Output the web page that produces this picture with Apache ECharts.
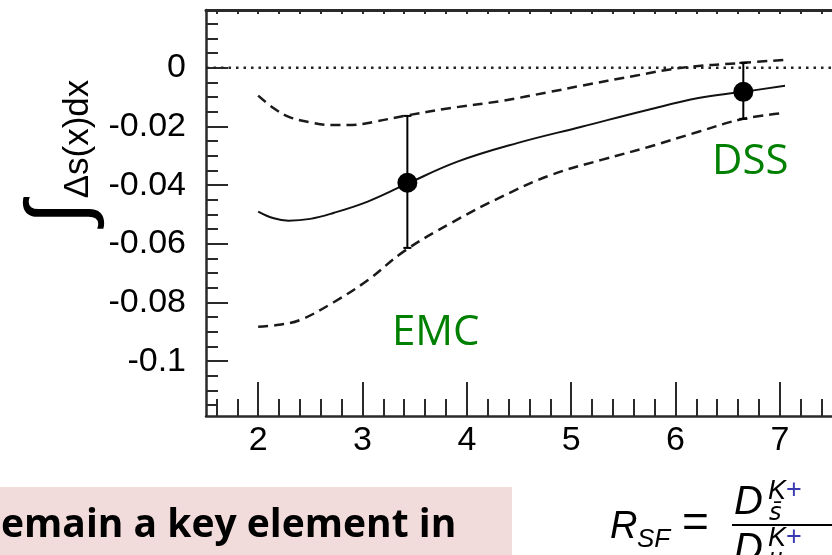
<!DOCTYPE html>
<html>
<head>
<meta charset="utf-8">
<script src="https://cdn.jsdelivr.net/npm/echarts@6/dist/echarts.min.js"></script>
<style>
html,body{margin:0;padding:0;background:#fff}
#main{width:832px;height:555px}
</style>
</head>
<body>
<div id="main"></div>
<script>
// central curve (solid)
let solidX = [2.0, 2.15, 2.29, 2.5, 2.72, 3.05, 3.4, 3.91, 4.49, 5.1, 5.74, 6.22, 6.65, 7.05];
let solidY = [-0.049, -0.0513, -0.0521, -0.0515, -0.0495, -0.0456, -0.0400, -0.0320, -0.0256, -0.0201, -0.0143, -0.0103, -0.0082, -0.0061];
// upper band (dashed)
let upperX = [2.0, 2.15, 2.3, 2.5, 2.7, 2.9, 3.1, 3.4, 3.85, 4.33, 4.8, 5.1, 5.6, 6.06, 6.65, 7.05];
let upperY = [-0.0095, -0.0138, -0.0168, -0.0186, -0.0195, -0.0195, -0.0185, -0.0164, -0.0137, -0.0113, -0.0082, -0.0061, -0.0028, 0.0, 0.0017, 0.0027];
// lower band (dashed)
let lowerX = [2.0, 2.2, 2.4, 2.72, 3.05, 3.4, 3.85, 4.33, 4.81, 5.29, 5.74, 6.22, 6.65, 7.05];
let lowerY = [-0.0883, -0.0876, -0.086, -0.080, -0.0724, -0.0625, -0.0529, -0.044, -0.0365, -0.0314, -0.027, -0.0218, -0.0174, -0.0154];
// points with errors: EMC, DSS
let pointNames = ['EMC', 'DSS'];
let pointX = [3.43, 6.65];
let pointY = [-0.0392, -0.0082];
let pointLo = [-0.0614, -0.0174];
let pointHi = [-0.0164, 0.0017];

let xMin = 1.5, xMax = 7.5;
let yMin = -0.1187, yMax = 0.0197;
let xMajor = [2, 3, 4, 5, 6, 7];
let yMajor = [0, -0.02, -0.04, -0.06, -0.08, -0.1];
let xMinor = [];
for (let i = 8; i <= 37; i++) xMinor.push(+(i * 0.2).toFixed(1));
let yMinor = [];
for (let i = 3; i >= -23; i--) yMinor.push(+(i * 0.005).toFixed(3));

let pair = (xs, ys) => xs.map((x, i) => [x, ys[i]]);

let axisColor = '#2a2a2a';
let tickFont = {fontSize: 34, color: '#000', fontFamily: 'Liberation Sans'};

function renderErr(params, api) {
    let x = api.value(0);
    let pLo = api.coord([x, api.value(1)]);
    let pHi = api.coord([x, api.value(2)]);
    let cap = 4;
    let st = {stroke: '#000', lineWidth: 2};
    return {
        type: 'group',
        children: [
            {type: 'line', shape: {x1: pLo[0], y1: pLo[1], x2: pHi[0], y2: pHi[1]}, style: st},
            {type: 'line', shape: {x1: pLo[0] - cap, y1: pLo[1], x2: pLo[0] + cap, y2: pLo[1]}, style: st},
            {type: 'line', shape: {x1: pHi[0] - cap, y1: pHi[1], x2: pHi[0] + cap, y2: pHi[1]}, style: st}
        ]
    };
}

var myChart = echarts.init(document.getElementById('main'));

let supRich = {
    k: {fontSize: 27, fontStyle: 'italic', fontFamily: 'Liberation Sans', fill: '#000'},
    p: {fontSize: 27, fontFamily: 'Liberation Sans', fill: '#3a3ab0'}
};

var option = {
    animation: false,
    backgroundColor: '#fff',
    grid: {left: 206, right: 0, top: 10, bottom: 139},
    xAxis: [
        {
            type: 'value', position: 'bottom', min: xMin, max: xMax,
            axisLine: {show: true, onZero: false, lineStyle: {color: axisColor, width: 2.5}},
            axisTick: {show: true, inside: true, length: 34, customValues: xMajor, lineStyle: {color: axisColor, width: 2}},
            axisLabel: Object.assign({customValues: xMajor, margin: 8}, tickFont),
            splitLine: {show: false}
        },
        {
            type: 'value', position: 'bottom', min: xMin, max: xMax,
            axisLine: {show: false, onZero: false},
            axisTick: {show: true, inside: true, length: 17, customValues: xMinor, lineStyle: {color: axisColor, width: 2}},
            axisLabel: {show: false},
            splitLine: {show: false}
        },
        {
            type: 'value', position: 'top', min: xMin, max: xMax,
            axisLine: {show: true, onZero: false, lineStyle: {color: axisColor, width: 3}},
            axisTick: {show: true, inside: true, length: 4, customValues: xMinor, lineStyle: {color: axisColor, width: 2}},
            axisLabel: {show: false},
            splitLine: {show: false}
        }
    ],
    yAxis: [
        {
            type: 'value', position: 'left', min: yMin, max: yMax,
            axisLine: {show: true, onZero: false, lineStyle: {color: axisColor, width: 2.5}},
            axisTick: {show: true, inside: true, length: 22, customValues: yMajor, lineStyle: {color: axisColor, width: 2}},
            axisLabel: Object.assign({customValues: yMajor, margin: 20, formatter: v => String(+(+v).toFixed(3))}, tickFont),
            splitLine: {show: false}
        },
        {
            type: 'value', position: 'left', min: yMin, max: yMax,
            axisLine: {show: false, onZero: false},
            axisTick: {show: true, inside: true, length: 12, customValues: yMinor, lineStyle: {color: axisColor, width: 2}},
            axisLabel: {show: false},
            splitLine: {show: false}
        }
    ],
    series: [
        {
            type: 'line', data: [[xMin, 0], [xMax, 0]], symbol: 'none', silent: true,
            lineStyle: {color: '#222', width: 2.5, type: [2.5, 5]}
        },
        {
            type: 'line', data: pair(upperX, upperY), smooth: 0.4, symbol: 'none',
            lineStyle: {color: '#1a1a1a', width: 2.5, type: [10, 6]}
        },
        {
            type: 'line', data: pair(lowerX, lowerY), smooth: 0.4, symbol: 'none',
            lineStyle: {color: '#1a1a1a', width: 2.5, type: [10, 6]}
        },
        {
            type: 'line', data: pair(solidX, solidY), smooth: 0.4, symbol: 'none',
            lineStyle: {color: '#111', width: 2}
        },
        {
            type: 'custom', renderItem: renderErr, z: 5,
            encode: {x: 0, y: [1, 2]},
            data: pointX.map((x, i) => [x, pointLo[i], pointHi[i]])
        },
        {
            type: 'scatter', symbol: 'circle', symbolSize: 20, z: 6,
            itemStyle: {color: '#000', opacity: 1},
            data: pair(pointX, pointY)
        }
    ],
    graphic: [
        // y axis title
        {type: 'text', x: 78, y: 139, rotation: Math.PI / 2,
            style: {text: 'Δs(x)dx', fontSize: 35, fontFamily: 'Liberation Sans', fill: '#000', align: 'center', verticalAlign: 'middle'}},
        {type: 'text', x: 62, y: 213, rotation: Math.PI / 2,
            style: {text: '∫', fontSize: 86, fontFamily: 'Liberation Sans', fill: '#000', align: 'center', verticalAlign: 'middle'}},
        // annotations
        {type: 'text', x: 392, y: 333, style: {text: pointNames[0], fontSize: 42, fontFamily: 'Open Sans', fill: '#008000', verticalAlign: 'middle'}},
        {type: 'text', x: 712, y: 162, style: {text: pointNames[1], fontSize: 42, fontFamily: 'Open Sans', fill: '#008000', verticalAlign: 'middle'}},
        // slide fragments below
        {type: 'rect', shape: {x: 0, y: 487, width: 512, height: 68}, style: {fill: '#f2dcdb'}},
        {type: 'text', x: 1, y: 526, style: {text: 'emain a key element in', fontSize: 39, fontWeight: 'bold', fontFamily: 'Open Sans', fill: '#000', verticalAlign: 'middle'}},
        {type: 'text', x: 610, y: 527, style: {text: 'R', fontSize: 38, fontStyle: 'italic', fontFamily: 'Liberation Sans', fill: '#000', verticalAlign: 'middle'}},
        {type: 'text', x: 637, y: 540, style: {text: 'SF', fontSize: 26, fontStyle: 'italic', fontFamily: 'Liberation Sans', fill: '#000', verticalAlign: 'middle'}},
        {type: 'text', x: 682, y: 524, style: {text: '=', fontSize: 46, fontFamily: 'Liberation Sans', fill: '#000', verticalAlign: 'middle'}},
        {type: 'line', shape: {x1: 732, y1: 525, x2: 832, y2: 525}, style: {stroke: '#000', lineWidth: 2}},
        {type: 'text', x: 734, y: 503, style: {text: 'D', fontSize: 40, fontStyle: 'italic', fontFamily: 'Liberation Sans', fill: '#000', verticalAlign: 'middle'}},
        {type: 'text', x: 768, y: 491, style: {text: '{k|K}{p|+}', rich: supRich, verticalAlign: 'middle'}},
        {type: 'text', x: 769, y: 514, style: {text: 's\u0304', fontSize: 24, fontStyle: 'italic', fontFamily: 'DejaVu Sans', fill: '#000', verticalAlign: 'middle'}},
        {type: 'text', x: 734, y: 550, style: {text: 'D', fontSize: 40, fontStyle: 'italic', fontFamily: 'Liberation Sans', fill: '#000', verticalAlign: 'middle'}},
        {type: 'text', x: 768, y: 538, style: {text: '{k|K}{p|+}', rich: supRich, verticalAlign: 'middle'}},
        {type: 'text', x: 769, y: 558, style: {text: 'u', fontSize: 24, fontStyle: 'italic', fontFamily: 'Liberation Sans', fill: '#000', verticalAlign: 'middle'}}
    ]
};
myChart.setOption(option);
</script>
</body>
</html>
